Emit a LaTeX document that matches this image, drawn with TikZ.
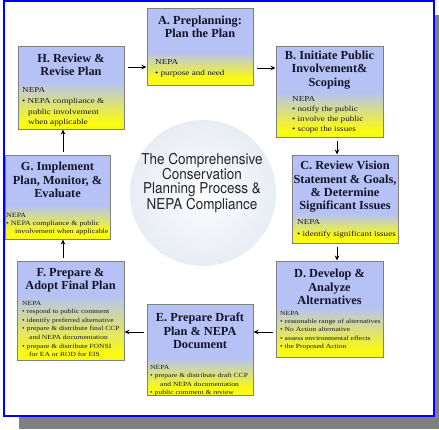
\documentclass[tikz,border=0pt]{standalone}
\usepackage{fontspec}
\setmainfont{Liberation Serif}
\newfontfamily\nepafont[FakeStretch=1.2]{Liberation Serif}
\newfontfamily\centerfont[FakeStretch=0.9]{TeX Gyre Heros}
\usetikzlibrary{arrows.meta,fit}
\definecolor{boxblue}{RGB}{182,194,246}
\definecolor{boxyellow}{RGB}{250,250,20}
\definecolor{boxedge}{RGB}{128,128,128}
\definecolor{frameblue}{RGB}{0,0,255}
\definecolor{shadowgray}{RGB}{128,128,128}
\definecolor{circin}{RGB}{253,253,255}
\definecolor{circout}{RGB}{232,236,244}
\definecolor{titlecol}{RGB}{20,20,40}
\definecolor{nepacol}{RGB}{25,25,35}
\newcommand\cbox[6]{%
  \fill[boxblue] (#2,#3) rectangle (#4,#6);
  \shade[top color=boxblue,bottom color=boxyellow] (#2,#6) rectangle (#4,#5-7);
  \fill[boxyellow] (#2,#5-7) rectangle (#4,#5);
  \node[boxframe,fit={(#2,#3) (#4,#5)}] (#1) {};
}
\newcommand\nbul{\textbullet\ }
\tikzset{
  boxframe/.style={draw=boxedge,line width=1pt,inner sep=0pt,rectangle},
  ttl/.style={align=center,font=\bfseries\fontsize{12.3}{13.3}\selectfont,text=titlecol,inner sep=0pt},
  nepa/.style={align=left,anchor=north west,inner sep=0pt,text=nepacol},
  arr/.style={-{Stealth[length=5pt,width=4.5pt]},line width=1pt,shorten <=3pt,black}
}
\begin{document}
\begin{tikzpicture}[x=1pt,y=-1pt]
\useasboundingbox (0,0) rectangle (439,429);
% frame and shadow
\fill[shadowgray] (19,15) rectangle (439,429);
\draw[frameblue,line width=2.2pt,fill=white] (4,1.2) rectangle (434,416);
% central circle
\node[circle,minimum size=146pt,inner sep=0pt,inner color=circin,outer color=circout] (circ) at (203,193) {};
\node[font=\centerfont\fontsize{15}{14}\selectfont,align=center,text=black!85] (ctext) at (202,183)
  {The Comprehensive\\Conservation\\Planning Process \&\\NEPA Compliance};
% boxes
\cbox{A}{147}{8}{253}{85}{52}
\node[ttl] (At) at (200,27) {A. Preplanning:\\Plan the Plan};
\node[nepa,font=\nepafont\fontsize{7.6}{11}\selectfont] (An) at (155,59.5)
  {NEPA\\\nbul purpose and need};
\cbox{H}{18}{46}{124}{129}{82}
\node[ttl] (Ht) at (71,65) {H. Review \&\\Revise Plan};
\node[nepa,font=\nepafont\fontsize{7.6}{10.7}\selectfont] (Hn) at (22,87.5)
  {NEPA\\\nbul NEPA compliance \&\\\hspace*{6pt}public involvement\\\hspace*{6pt}when applicable};
\cbox{B}{276}{46}{383}{137}{92}
\node[ttl] (Bt) at (329.5,70) {B. Initiate Public\\Involvement\&\\Scoping};
\node[nepa,font=\nepafont\fontsize{7.6}{10}\selectfont] (Bn) at (292,96.5)
  {NEPA\\\nbul notify the public\\\nbul involve the public\\\nbul scope the issues};
\cbox{C}{292}{155}{398}{243}{214}
\node[ttl] (Ct) at (345,187) {C. Review Vision\\Statement \& Goals,\\\& Determine\\Significant Issues};
\node[nepa,font=\nepafont\fontsize{7.6}{12}\selectfont] (Cn) at (297,219.5)
  {NEPA\\\nbul identify significant issues};
\cbox{G}{5}{155}{110}{239}{205}
\node[ttl] (Gt) at (57.5,180) {G. Implement\\Plan, Monitor, \&\\Evaluate};
\node[nepa,font=\nepafont\fontsize{6.6}{8}\selectfont] (Gn) at (6,212.5)
  {NEPA\\\nbul NEPA compliance \& public\\\hspace*{9pt}involvement when applicable};
\cbox{F}{17}{261}{124}{360}{295}
\node[ttl] (Ft) at (70.5,280) {F. Prepare \&\\Adopt Final Plan};
\node[nepa,font=\nepafont\fontsize{6.3}{8.6}\selectfont] (Fn) at (22,300.8)
  {NEPA\\\nbul respond to public comment\\\nbul identify preferred alternative\\\nbul prepare \& distribute final CCP\\\hspace*{7pt}and NEPA documentation\\\nbul prepare \& distribute FONSI\\\hspace*{7pt}for EA or ROD for EIS};
\cbox{E}{147}{304}{253}{395}{358}
\node[ttl] (Et) at (200,331) {E. Prepare Draft\\Plan \& NEPA\\Document};
\node[nepa,font=\nepafont\fontsize{6.3}{8.6}\selectfont] (En) at (150,364.8)
  {NEPA\\\nbul prepare \& distribute draft CCP\\\hspace*{10pt}and NEPA documentation\\\nbul public comment \& review};
\cbox{D}{276}{261}{383}{357}{307}
\node[ttl] (Dt) at (329.5,287) {D. Develop \&\\Analyze\\Alternatives};
\node[nepa,font=\nepafont\fontsize{6.3}{8.4}\selectfont] (Dn) at (280,310.8)
  {NEPA\\\nbul reasonable range of alternatives\\\nbul No Action alternative\\\nbul assess environmental effects\\\nbul the Proposed Action};
% arrows
\draw[arr] (H.east |- 0,67) -- (A.west |- 0,67);
\draw[arr] (A.east |- 0,68) -- (B.west |- 0,68);
\draw[arr] (B.south -| 337,0) -- (C.north -| 337,0);
\draw[arr] (C.south -| 337,0) -- (D.north -| 337,0);
\draw[arr] (D.west |- 0,332) -- (E.east |- 0,332);
\draw[arr] (E.west |- 0,332) -- (F.east |- 0,332);
\draw[arr] (F.north -| 63,0) -- (G.south -| 63,0);
\draw[arr] (G.north -| 63,0) -- (H.south -| 63,0);
\end{tikzpicture}
\end{document}
